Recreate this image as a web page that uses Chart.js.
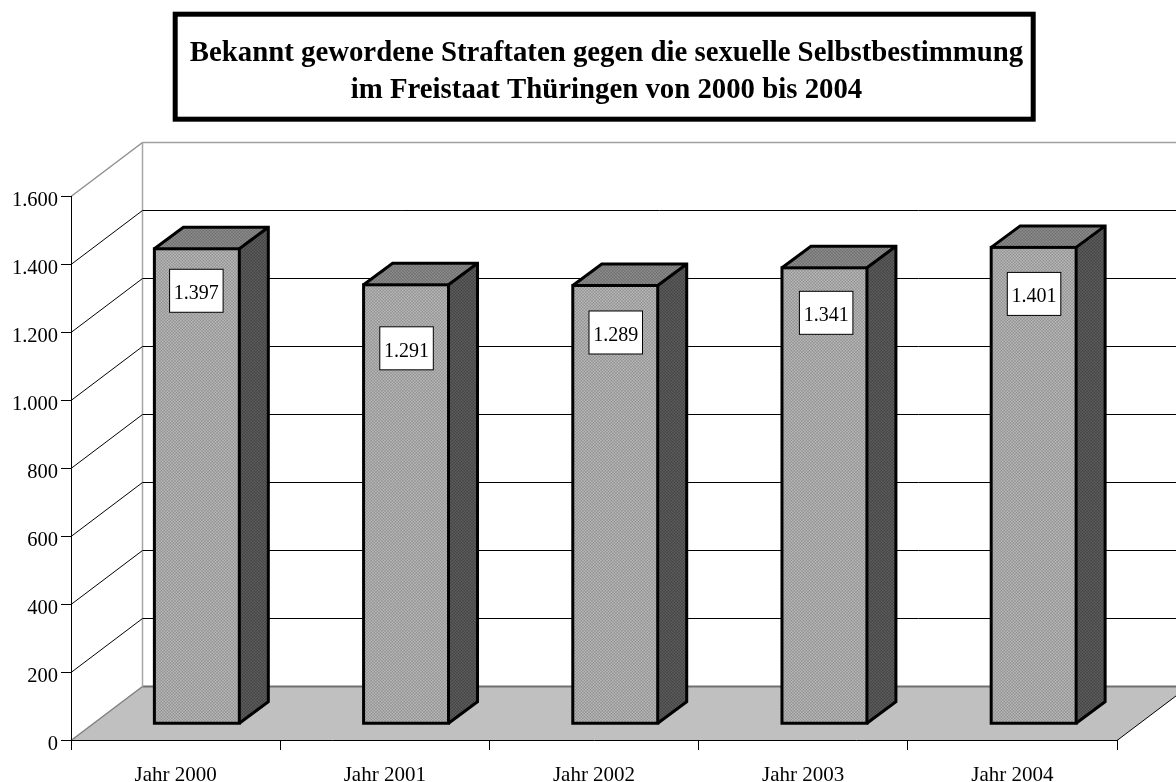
<!DOCTYPE html>
<html><head><meta charset="utf-8">
<style>html,body{margin:0;padding:0;background:#fff}canvas{display:block}</style>
<script src="https://cdn.jsdelivr.net/npm/chart.js@4"></script>
</head><body><canvas id="c" width="1176" height="782"></canvas>
<script>
const titleLines = ['Bekannt gewordene Straftaten gegen die sexuelle Selbstbestimmung','im Freistaat Thüringen von 2000 bis 2004'];
const categories = ['Jahr 2000','Jahr 2001','Jahr 2002','Jahr 2003','Jahr 2004'];
const cases = [1397,1291,1289,1341,1401];
const labelDrop = [42,63.5,47,45,46.5];
const labelNudge = [-0.5,0.5,0.5,1.7,0.4];

const WALL = {dx:71.5, dy:54};
const BAR = {dx:21.25, dy:16.25, depthX:29, depthY:21.5};
const FONT = '"Liberation Serif"';
const fmt = v => Number(v).toLocaleString('de-DE');

function checker(a,b){
  const p=document.createElement('canvas');p.width=3;p.height=3;
  const g=p.getContext('2d');
  g.fillStyle=a;g.fillRect(0,0,3,3);
  g.fillStyle=b;g.fillRect(0,0,1.5,1.5);g.fillRect(1.5,1.5,1.5,1.5);
  return g.createPattern(p,'repeat');
}
const frontFill=checker('#7a7a7a','#d2d2d2');
const topFill=checker('#5c5c5c','#a2a2a2');
const sideFill=checker('#343434','#707070');

function line(ctx,x1,y1,x2,y2,color,w){
  ctx.beginPath();ctx.moveTo(x1,y1);ctx.lineTo(x2,y2);ctx.strokeStyle=color;ctx.lineWidth=w;ctx.stroke();
}
const decor={
  id:'decor',
  afterLayout(chart){
    const t=chart.titleBlock;t.left=173;t.right=1040;
  },
  beforeDraw(chart){
    const {ctx,scales:{x,y}}=chart;
    const L=x.left,R=x.right,B=y.getPixelForValue(0)+.5,T=y.getPixelForValue(1600)+.5;
    const {dx,dy}=WALL;
    ctx.save();
    ctx.fillStyle='#fff';ctx.fillRect(0,0,chart.width,chart.height);
    // title frame
    ctx.strokeStyle='#000';ctx.lineWidth=5;ctx.strokeRect(175.2,14.2,858,105);
    // floor
    ctx.beginPath();ctx.moveTo(L,B);ctx.lineTo(R,B);ctx.lineTo(R+dx,B-dy);ctx.lineTo(L+dx,B-dy);ctx.closePath();
    ctx.fillStyle='#c0c0c0';ctx.fill();
    line(ctx,L,B,L+dx,B-dy,'#808080',1.5);
    line(ctx,R,B,R+dx,B-dy,'#000',1);
    line(ctx,L+dx,B-dy,R+dx,B-dy,'#707070',2);
    // walls
    line(ctx,L+dx,B-dy,L+dx,T-dy,'#a6a6a6',1.5);
    line(ctx,L,T,L+dx,T-dy,'#909090',1.5);
    line(ctx,L+dx,T-dy,R+dx,T-dy,'#a0a0a0',1.5);
    // grid
    y.ticks.forEach(tk=>{
      if(tk.value===0||tk.value===1600)return;
      const p=y.getPixelForValue(tk.value)+.5;
      line(ctx,L,p,L+dx,p-dy,'#000',1);
      line(ctx,L+dx,p-dy,R+dx,p-dy,'#000',1);
    });
    ctx.restore();
  },
  beforeDatasetsDraw(chart){
    const ctx=chart.ctx,{depthX:a,depthY:b}=BAR;
    ctx.save();
    ctx.translate(BAR.dx,-BAR.dy);
    chart.getDatasetMeta(0).data.forEach(el=>{
      const l=el.x-el.width/2,r=el.x+el.width/2,t=el.y,g=el.base;
      ctx.beginPath();ctx.moveTo(l,t);ctx.lineTo(l+a,t-b);ctx.lineTo(r+a,t-b);ctx.lineTo(r,t);ctx.closePath();
      ctx.fillStyle=topFill;ctx.fill();
      ctx.beginPath();ctx.moveTo(r,t);ctx.lineTo(r+a,t-b);ctx.lineTo(r+a,g-b);ctx.lineTo(r,g);ctx.closePath();
      ctx.fillStyle=sideFill;ctx.fill();
    });
  },
  afterDatasetsDraw(chart){
    const ctx=chart.ctx,{depthX:a,depthY:b}=BAR;
    chart.getDatasetMeta(0).data.forEach((el,i)=>{
      const l=el.x-el.width/2,r=el.x+el.width/2,t=el.y,g=el.base;
      ctx.strokeStyle='#000';ctx.lineWidth=3;ctx.lineJoin='miter';
      ctx.strokeRect(l,t,r-l,g-t);
      ctx.beginPath();
      ctx.moveTo(l,t);ctx.lineTo(l+a,t-b);ctx.lineTo(r+a,t-b);ctx.lineTo(r+a,g-b);ctx.lineTo(r,g);
      ctx.moveTo(r,t);ctx.lineTo(r+a,t-b);
      ctx.stroke();
      // value label
      const cy=t+labelDrop[i],w=53.5,h=43,cx=el.x+labelNudge[i];
      ctx.fillStyle='#fff';ctx.fillRect(cx-w/2,cy-h/2,w,h);
      ctx.lineWidth=1;ctx.strokeRect(cx-w/2,cy-h/2,w,h);
      ctx.fillStyle='#000';ctx.font='20px '+FONT;ctx.textAlign='center';ctx.textBaseline='middle';
      ctx.fillText(fmt(cases[i]),cx,cy+3);
    });
    ctx.restore();
  }
};

new Chart(document.getElementById('c'),{
  type:'bar',
  data:{labels:categories,datasets:[{data:cases,backgroundColor:frontFill,borderWidth:0,barPercentage:0.406,categoryPercentage:1}]},
  plugins:[decor],
  options:{
    responsive:false,animation:false,
    layout:{padding:{left:0,right:59,top:0,bottom:0}},
    plugins:{
      legend:{display:false},tooltip:{enabled:false},
      title:{display:true,text:titleLines,color:'#000',font:{family:FONT,size:28.8,weight:'bold',lineHeight:37/28.8},padding:{top:35.5,bottom:86.5}}
    },
    scales:{
      x:{
        afterFit(s){s.height=42;},
        grid:{drawOnChartArea:false,drawTicks:true,tickLength:10,color:'#000'},
        border:{display:true,color:'#000',width:1},
        ticks:{color:'#000',font:{family:FONT,size:21},padding:13,maxRotation:0}
      },
      y:{
        min:0,max:1600,
        afterFit(s){s.width=71;},
        grid:{drawOnChartArea:false,drawTicks:true,tickLength:10,color:'#000'},
        border:{display:true,color:'#000',width:1},
        ticks:{stepSize:200,color:'#000',font:{family:FONT,size:20.5},padding:3,labelOffset:5,callback:fmt}
      }
    }
  }
});
</script></body></html>
